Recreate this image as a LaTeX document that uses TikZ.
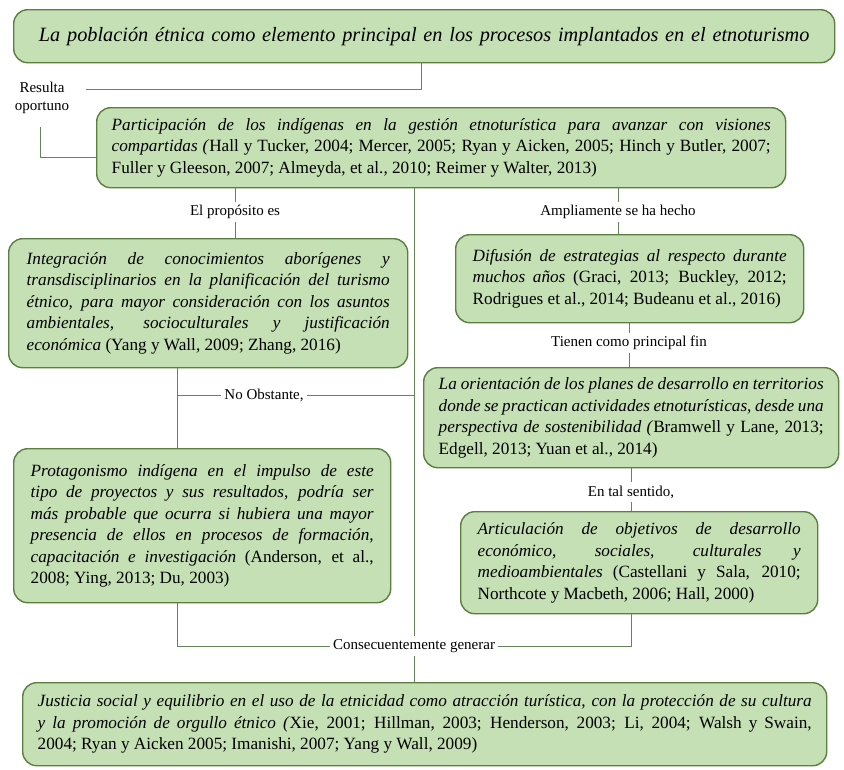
\documentclass[tikz,border=0pt]{standalone}
\usepackage{fontspec}
\setmainfont{Liberation Serif}
\usetikzlibrary{calc}
\definecolor{boxfill}{HTML}{C5E0B4}
\definecolor{boxline}{HTML}{5A7F3E}
\definecolor{conline}{HTML}{64845A}
\newcommand{\bodyfont}{\fontsize{17.2}{21.5}\selectfont}
\newcommand{\labfont}{\fontsize{15}{18}\selectfont}
\tikzset{
  gbox/.style={draw=boxline, line width=1.4pt, fill=boxfill, rounded corners=14pt,
    anchor=north west, inner xsep=15pt, inner ysep=4pt, align=justify,
    font=\bodyfont},
  lab/.style={inner sep=3pt, font=\labfont, align=center},
  con/.style={draw=conline, line width=1pt}
}
\begin{document}
\begin{tikzpicture}[x=1pt,y=-1pt]
\useasboundingbox (0,0) rectangle (844,769);
% title
\node[gbox, minimum width=821pt, minimum height=53pt, align=center, text width=791pt,
  font=\fontsize{20.3}{24}\selectfont\itshape] (title) at (13,9)
  {La población étnica como elemento principal en los procesos implantados en el etnoturismo};
% box 2
\node[gbox, minimum width=689pt, minimum height=80pt, text width=659pt] (b2) at (96,107)
  {\textit{Participación de los indígenas en la gestión etnoturística para avanzar con visiones}\linebreak
   \textit{compartidas (}Hall y Tucker, 2004; Mercer, 2005; Ryan y Aicken, 2005; Hinch y Butler, 2007;\linebreak
   Fuller y Gleeson, 2007; Almeyda, et al., 2010; Reimer y Walter, 2013)};
% box 3
\node[gbox, minimum width=399pt, minimum height=129pt, text width=363pt, inner xsep=18pt] (b3) at (8,238)
  {\textit{Integración de conocimientos aborígenes y}\linebreak
   \textit{transdisciplinarios en la planificación del turismo}\linebreak
   \textit{étnico, para mayor consideración con los asuntos}\linebreak
   \textit{ambientales, socioculturales y justificación}\linebreak
   \textit{económica} (Yang y Wall, 2009; Zhang, 2016)};
% box 4
\node[gbox, minimum width=348pt, minimum height=88pt, text width=314pt, inner xsep=17pt] (b4) at (455,234)
  {\textit{Difusión de estrategias al respecto durante}\linebreak
   \textit{muchos años} (Graci, 2013; Buckley, 2012;\linebreak
   Rodrigues et al., 2014; Budeanu et al., 2016)};
% box 6
\node[gbox, minimum width=415pt, minimum height=100pt, text width=385pt] (b6) at (423,367)
  {\textit{La orientación de los planes de desarrollo en territorios}\linebreak
   \textit{donde se practican actividades etnoturísticas, desde una}\linebreak
   \textit{perspectiva de sostenibilidad (}Bramwell y Lane, 2013;\linebreak
   Edgell, 2013; Yuan et al., 2014)};
% box 5
\node[gbox, minimum width=377pt, minimum height=154pt, text width=343pt, inner xsep=17pt] (b5) at (13,448)
  {\textit{Protagonismo indígena en el impulso de este}\linebreak
   \textit{tipo de proyectos y sus resultados, podría ser}\linebreak
   \textit{más probable que ocurra si hubiera una mayor}\linebreak
   \textit{presencia de ellos en procesos de formación,}\linebreak
   \textit{capacitación e investigación} (Anderson, et al.,\linebreak
   2008; Ying, 2013; Du, 2003)};
% box 7
\node[gbox, minimum width=357pt, minimum height=102pt, text width=323pt, inner xsep=17pt] (b7) at (460,511)
  {\textit{Articulación de objetivos de desarrollo}\linebreak
   \textit{económico, sociales, culturales y}\linebreak
   \textit{medioambientales} (Castellani y Sala, 2010;\linebreak
   Northcote y Macbeth, 2006; Hall, 2000)};
% box 8
\node[gbox, minimum width=804pt, minimum height=83pt, text width=774pt] (b8) at (22,682)
  {\textit{Justicia social y equilibrio en el uso de la etnicidad como atracción turística, con la protección de su cultura}\linebreak
   \textit{y la promoción de orgullo étnico (}Xie, 2001; Hillman, 2003; Henderson, 2003; Li, 2004; Walsh y Swain,\linebreak
   2004; Ryan y Aicken 2005; Imanishi, 2007; Yang y Wall, 2009)};
% labels
\node[lab] (res) at (42,98) {Resulta\\oportuno};
\node[lab] (prop) at (235,212) {El propósito es};
\node[lab] (ampl) at (618,212) {Ampliamente se ha hecho};
\node[lab] (nob) at (264,395) {No Obstante,};
\node[lab] (tien) at (629,343) {Tienen como principal fin};
\node[lab] (tal) at (631,492) {En tal sentido,};
\node[lab] (cons) at (414,646) {Consecuentemente generar};
% helper coordinates
\coordinate (xT) at (421,0);
\coordinate (xL) at (177,0);
\coordinate (r1) at (86,89);
\coordinate (r2) at (40,127);
\coordinate (r3) at (40,157);
% connectors
\draw[con] (xT |- title.south) -- (xT |- r1) -- (r1);
\draw[con] (r2) -- (r3) -- (r3 -| b2.west);
\draw[con] (prop |- b2.south) -- (prop.north);
\draw[con] (prop.south) -- (prop |- b3.north);
\draw[con] (ampl |- b2.south) -- (ampl.north);
\draw[con] (ampl.south) -- (ampl |- b4.north);
\draw[con] (cons |- b2.south) -- (cons.north);
\draw[con] (xL |- b3.south) -- (xL |- b5.north);
\draw[con] (xL |- nob) -- (nob.west);
\draw[con] (nob.east) -- (nob -| cons);
\draw[con] (tien |- b4.south) -- (tien.north);
\draw[con] (tien.south) -- (tien |- b6.north);
\draw[con] (tal |- b6.south) -- (tal.north);
\draw[con] (tal.south) -- (tal |- b7.north);
\draw[con] (xL |- b5.south) -- (xL |- cons) -- (cons.west);
\draw[con] (tal |- b7.south) -- (tal |- cons) -- (cons.east);
\draw[con] (cons.south) -- (cons |- b8.north);
\end{tikzpicture}
\end{document}
